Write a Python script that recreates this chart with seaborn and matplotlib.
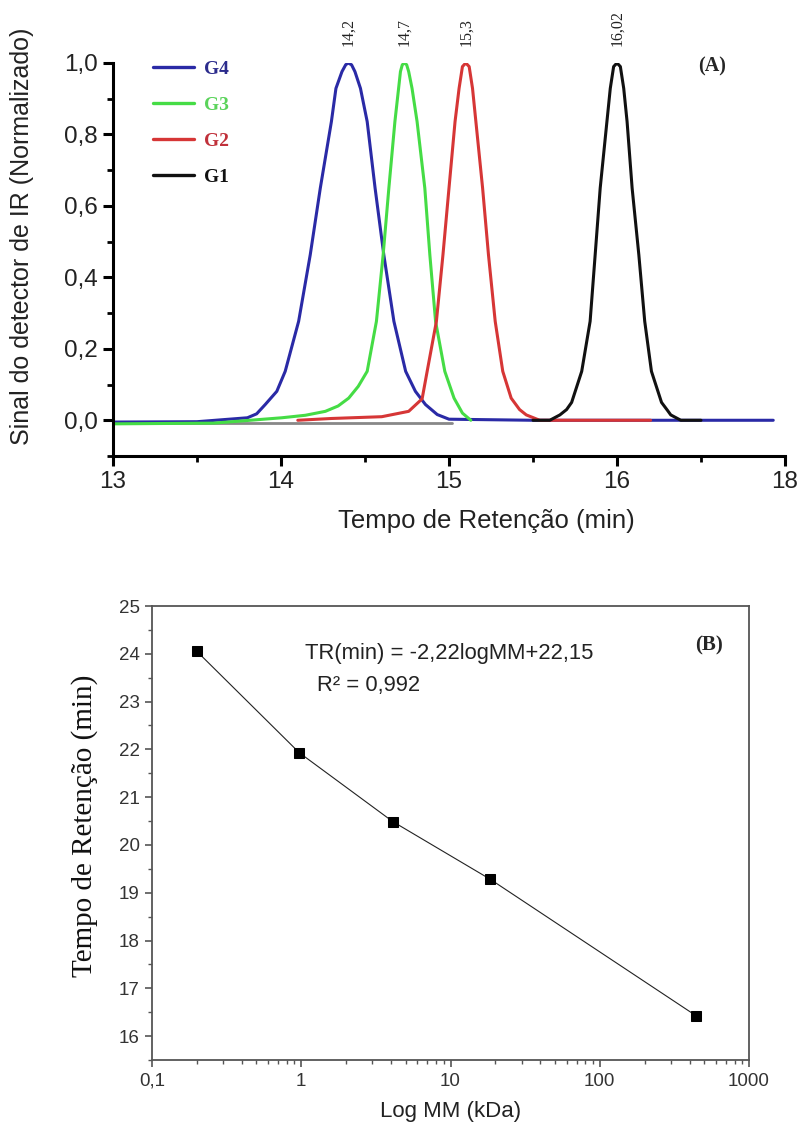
import numpy as np
import pandas as pd
import matplotlib
matplotlib.use("Agg")
import matplotlib.pyplot as plt
import seaborn as sns
from matplotlib.ticker import MultipleLocator, FixedLocator, FixedFormatter, LogLocator, NullFormatter

# ---------------- Data: panel (A) chromatograms ----------------
g4_x = [13.0, 13.5, 13.8, 13.855, 13.906, 13.975, 14.025, 14.105, 14.174, 14.234, 14.30, 14.327, 14.363, 14.385, 14.40,
        14.42, 14.44, 14.473, 14.513, 14.56, 14.612, 14.672, 14.742, 14.80, 14.86, 14.93, 15.0, 15.5, 16.0, 16.5, 16.93]
g4_y = [-0.005, -0.004, 0.007, 0.018, 0.044, 0.081, 0.137, 0.277, 0.463, 0.65, 0.836, 0.929, 0.976, 0.995, 1.0,
        0.995, 0.976, 0.929, 0.836, 0.65, 0.463, 0.277, 0.137, 0.081, 0.044, 0.016, 0.003, 0.0, 0.0, 0.0, 0.0]

g3_x = [13.0, 13.6, 14.005, 14.145, 14.264, 14.34, 14.403, 14.46, 14.513, 14.568, 14.608, 14.642, 14.678, 14.70, 14.711, 14.722,
        14.735, 14.748, 14.76, 14.78, 14.81, 14.856, 14.886, 14.92, 14.975, 15.03, 15.08, 15.13]
g3_y = [-0.01, -0.008, 0.007, 0.014, 0.025, 0.04, 0.062, 0.095, 0.137, 0.277, 0.463, 0.65, 0.836, 0.929, 0.976, 0.995,
        1.0, 0.995, 0.976, 0.929, 0.836, 0.65, 0.463, 0.277, 0.137, 0.062, 0.02, 0.0]

g2_x = [14.1, 14.30, 14.60, 14.76, 14.84, 14.87, 14.925, 14.964, 15.0, 15.036, 15.06, 15.08, 15.10,
        15.12, 15.14, 15.16, 15.20, 15.235, 15.275, 15.32, 15.37, 15.42, 15.46, 15.54, 16.2]
g2_y = [0.0, 0.005, 0.01, 0.025, 0.06, 0.137, 0.277, 0.463, 0.65, 0.836, 0.929, 0.99, 1.0,
        0.99, 0.929, 0.836, 0.65, 0.463, 0.277, 0.137, 0.062, 0.03, 0.015, 0.0, 0.0]

g1_x = [15.5, 15.60, 15.66, 15.70, 15.73, 15.79, 15.84, 15.87, 15.90, 15.94, 15.96, 15.98, 16.0, 16.02,
        16.04, 16.06, 16.09, 16.13, 16.165, 16.205, 16.265, 16.30, 16.32, 16.38, 16.5]
g1_y = [0.0, 0.0, 0.015, 0.03, 0.05, 0.137, 0.277, 0.463, 0.65, 0.836, 0.929, 0.99, 1.0, 0.99,
        0.929, 0.836, 0.65, 0.463, 0.277, 0.137, 0.05, 0.028, 0.015, 0.0, 0.0]

base_x = [13.0, 15.02]
base_y = [-0.008, -0.008]

samples = ["G4", "G3", "G2", "G1"]
sample_colors = ["#2a2aa6", "#45dc45", "#d63636", "#111111"]
label_colors = ["#2b2b8c", "#5ad35a", "#c0303a", "#111111"]
peak_pos = [14.40, 14.735, 15.10, 16.0]
peak_labels = ["14,2", "14,7", "15,3", "16,02"]

xticks_a = [13, 14, 15, 16, 17]
xticklabels_a = ["13", "14", "15", "16", "18"]
yticks_a = [0.0, 0.2, 0.4, 0.6, 0.8, 1.0]
yticklabels_a = ["0,0", "0,2", "0,4", "0,6", "0,8", "1,0"]

# ---------------- Data: panel (B) calibration ----------------
mm_kda = [0.2, 0.97, 4.1, 18.5, 440.0]
tr_min = [24.05, 21.93, 20.49, 19.28, 16.43]
xticks_b = [0.1, 1, 10, 100, 1000]
xticklabels_b = ["0,1", "1", "10", "100", "1000"]
yticks_b = [16, 17, 18, 19, 20, 21, 22, 23, 24, 25]

# ---------------- Style ----------------
sns.set_theme(style="ticks")
sans = ["Liberation Sans", "DejaVu Sans"]
serif = ["Liberation Serif", "DejaVu Serif"]
narrow = ["Liberation Sans Narrow", "Liberation Sans", "DejaVu Sans"]
plt.rcParams["font.family"] = sans

W, H = 801, 1131
fig = plt.figure(figsize=(W / 100, H / 100), dpi=100)
fig.patch.set_facecolor("white")

def fx(px):
    return px / W

def fy(py):
    return 1 - py / H

# ---------------- Panel A ----------------
axA = fig.add_axes([fx(113), fy(456), (785 - 113) / W, (456 - 63) / H])
axA.plot(base_x, base_y, color="#888888", lw=2.0, zorder=1)

rows = []
for name, xs, ys in zip(samples, [g4_x, g3_x, g2_x, g1_x], [g4_y, g3_y, g2_y, g1_y]):
    for xv, yv in zip(xs, ys):
        rows.append((name, xv, yv))
dfA = pd.DataFrame(rows, columns=["amostra", "tempo", "sinal"])

sns.lineplot(data=dfA, x="tempo", y="sinal", hue="amostra", hue_order=samples,
             palette=dict(zip(samples, sample_colors)), sort=False, estimator=None,
             lw=2.2, ax=axA)

axA.set_xlim(13, 17.0)
axA.set_ylim(-0.1, 1.0)
axA.xaxis.set_major_locator(FixedLocator(xticks_a))
axA.xaxis.set_major_formatter(FixedFormatter(xticklabels_a))
axA.xaxis.set_minor_locator(MultipleLocator(0.5))
axA.yaxis.set_major_locator(FixedLocator(yticks_a))
axA.yaxis.set_major_formatter(FixedFormatter(yticklabels_a))
axA.yaxis.set_minor_locator(MultipleLocator(0.1))
for side in ["top", "right"]:
    axA.spines[side].set_visible(False)
for side in ["left", "bottom"]:
    axA.spines[side].set_linewidth(2.2)
    axA.spines[side].set_color("black")
axA.tick_params(which="major", direction="out", length=7, width=2.2, labelsize=17.5, pad=4, colors="black")
axA.tick_params(which="minor", direction="out", length=4, width=2.0, colors="black")
for lab in axA.get_xticklabels() + axA.get_yticklabels():
    lab.set_color("#222222")

axA.set_xlabel("Tempo de Retenção (min)", fontsize=18.5, color="#222222")
axA.set_ylabel("Sinal do detector de IR (Normalizado)", fontsize=18, color="#222222")
axA.xaxis.set_label_coords((486 - 113) / 672, -0.135)
axA.yaxis.set_label_coords((34 - 113) / 672, 0.56)

handles, labels = axA.get_legend_handles_labels()
leg = axA.legend(handles, labels, loc="upper left", bbox_to_anchor=(fx(153), fy(60)),
                 bbox_transform=fig.transFigure, frameon=False, borderpad=0, borderaxespad=0,
                 handlelength=2.1, handletextpad=0.5, labelspacing=0.95,
                 prop={"family": serif, "weight": "bold", "size": 14})
for txt, c in zip(leg.get_texts(), label_colors):
    txt.set_color(c)
for ln in leg.get_lines():
    ln.set_linewidth(2.4)

for xp, lab in zip(peak_pos, peak_labels):
    axA.annotate(lab, xy=(xp, 1.0), xytext=(0, 12), textcoords="offset points",
                 rotation=90, ha="center", va="bottom", fontsize=11.5,
                 family=serif, color="#222222", annotation_clip=False)

fig.text(fx(712), fy(66), "(A)", family=serif, weight="bold", fontsize=14.5, ha="center", va="center")

# ---------------- Panel B ----------------
axB = fig.add_axes([fx(152), fy(1060), (749 - 152) / W, (1060 - 606) / H])
dfB = pd.DataFrame({"mm": mm_kda, "tr": tr_min})
sns.lineplot(data=dfB, x="mm", y="tr", color="#222222", lw=0.8, sort=False, estimator=None,
             marker="s", markersize=7.5, markeredgecolor="black", markerfacecolor="black", ax=axB)
axB.set_xscale("log")
axB.set_xlim(0.1, 1000)
axB.set_ylim(15.5, 25)
axB.xaxis.set_major_locator(FixedLocator(xticks_b))
axB.xaxis.set_major_formatter(FixedFormatter(xticklabels_b))
axB.xaxis.set_minor_locator(LogLocator(base=10, subs=np.arange(2, 10)))
axB.xaxis.set_minor_formatter(NullFormatter())
axB.yaxis.set_major_locator(FixedLocator(yticks_b))
axB.yaxis.set_minor_locator(MultipleLocator(0.5))
for side in ["top", "right", "left", "bottom"]:
    axB.spines[side].set_linewidth(1.3)
    axB.spines[side].set_color("#555555")
axB.tick_params(which="major", direction="out", length=5, width=1.2, colors="#555555", labelsize=13.5, pad=4)
axB.tick_params(which="minor", direction="out", length=3, width=1.0, colors="#555555")
for lab in axB.get_xticklabels() + axB.get_yticklabels():
    lab.set_family(narrow)
    lab.set_color("#333333")

axB.set_xlabel("Log MM (kDa)", fontsize=16, family=narrow, color="#222222")
axB.set_ylabel("Tempo de Retenção (min)", fontsize=21, family=serif, color="#111111")
axB.yaxis.set_label_coords((98 - 152) / 597, 0.515)
axB.xaxis.set_label_coords(0.5, -0.09)

fig.text(fx(305), fy(653), "TR(min) = -2,22logMM+22,15", fontsize=15.8, ha="left", va="center",
         family=sans, color="#222222")
fig.text(fx(317), fy(686), "R² = 0,992", fontsize=15.8, ha="left", va="center", family=sans, color="#222222")
fig.text(fx(709), fy(645), "(B)", family=serif, weight="bold", fontsize=15, ha="center", va="center")

fig.savefig("out.png", dpi=100, facecolor="white")
